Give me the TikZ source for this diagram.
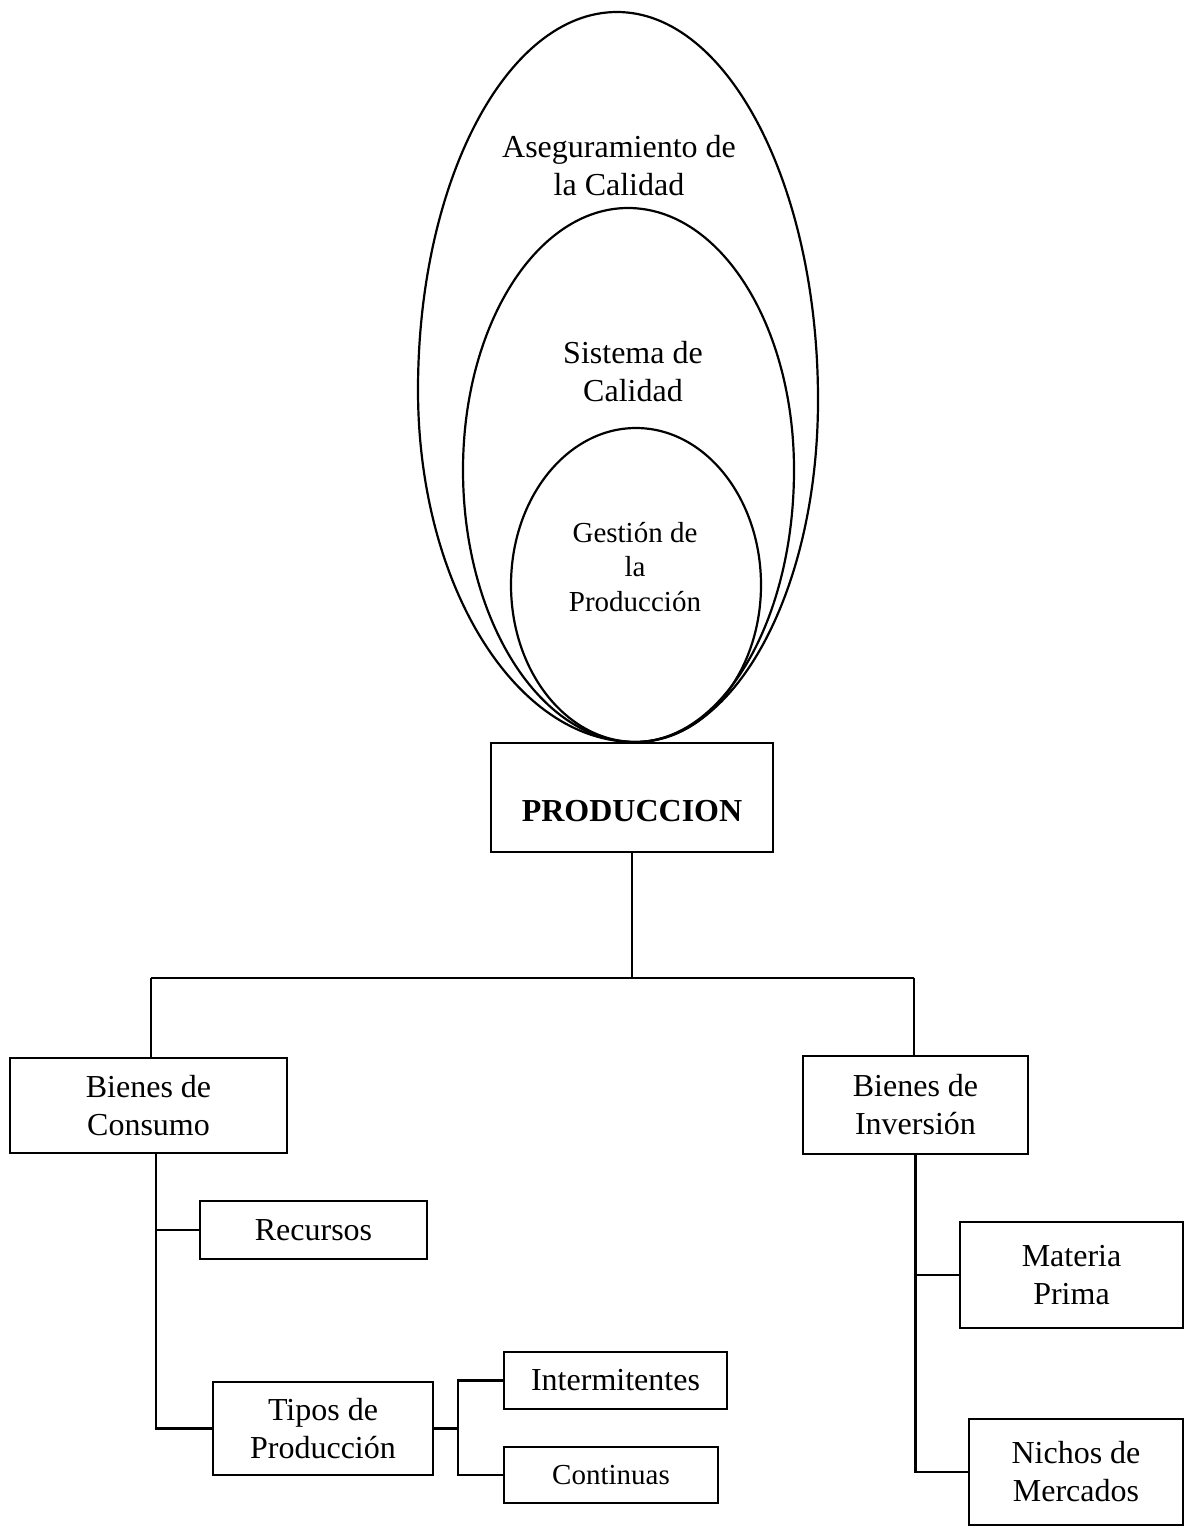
\documentclass[tikz,border=0pt]{standalone}
\usepackage{fontspec}
\setmainfont{Liberation Serif}
\begin{document}
\begin{tikzpicture}[x=0.5pt,y=-0.5pt,line width=1.1pt,
  box/.style={draw,line width=1.1pt,rectangle,inner sep=0pt,align=center,font=\fontsize{16}{19}\selectfont},
  sbox/.style={box,font=\fontsize{14.5}{17.25}\selectfont},
  lbl/.style={align=center,inner sep=0pt,font=\fontsize{16}{19}\selectfont},
  slbl/.style={lbl,font=\fontsize{14.5}{17.25}\selectfont},
  conn/.style={draw,line width=1.1pt},
  oval/.style={draw,line width=1.1pt}]
\useasboundingbox (0,0) rectangle (1184,1526);

% nested ovals
\path[oval] (617,12) .. controls (507,12) and (418,181) .. (418,390)
  .. controls (418,584) and (515,742) .. (635,742)
  .. controls (736,742) and (818,589) .. (818,400)
  .. controls (818,186) and (728,12) .. (617,12) -- cycle;
\path[oval] (628,208) .. controls (537,208) and (463,325) .. (463,470)
  .. controls (463,620) and (540,742) .. (635,742)
  .. controls (723,742) and (794,620) .. (794,470)
  .. controls (794,325) and (720,208) .. (628,208) -- cycle;
\path[oval] (636,585) ellipse [x radius=125, y radius=157];

\node[lbl] (aseg) at (619,166) {Aseguramiento de\\la Calidad};
\node[lbl] (sist) at (633,372) {Sistema de\\Calidad};
\node[slbl] (gest) at (635,567) {Gestión de\\la\\Producción};

% boxes
\node[box,minimum width=141pt,minimum height=54.5pt] (prod) at (632,797.5) {};
\node[lbl,font=\fontsize{16}{19}\selectfont\bfseries] (prodt) at (632,811) {PRODUCCION};
\node[box,minimum width=138.5pt,minimum height=47.5pt] (bc) at (148.5,1105.5) {Bienes de\\Consumo};
\node[box,minimum width=112.5pt,minimum height=49pt] (bi) at (915.5,1105) {Bienes de\\Inversión};
\node[box,minimum width=113.5pt,minimum height=29pt] (rec) at (313.5,1230) {Recursos};
\node[box,minimum width=110pt,minimum height=46.5pt] (tp) at (323,1428.5) {Tipos de\\Producción};
\node[box,minimum width=111.5pt,minimum height=28.5pt] (int) at (615.5,1380.5) {Intermitentes};
\node[sbox,minimum width=107pt,minimum height=28pt] (con) at (611,1475) {Continuas};
\node[box,minimum width=111.5pt,minimum height=53pt] (mp) at (1071.5,1275) {Materia\\Prima};
\node[box,minimum width=107pt,minimum height=53pt] (nm) at (1076,1472) {Nichos de\\Mercados};

% connectors
\coordinate (hM) at (632,978);
\coordinate (hL) at (151,978);
\coordinate (hR) at (914,978);
\coordinate (ls) at (156,1153);
\coordinate (br) at (458,1428.5);
\path[conn] (prod.south) -- (hM);
\path[conn] (hL) -- (hR);
\path[conn] (hL) -- (hL |- bc.north);
\path[conn] (hR) -- (hR |- bi.north);
\path[conn] (ls) |- (tp.west);
\path[conn] (ls |- rec.west) -- (rec.west);
\path[conn] (tp.east) -- (br);
\path[conn] (int.west) -| (br) |- (con.west);
\path[conn] (bi.south) |- (nm.west);
\path[conn] (bi.south |- mp.west) -- (mp.west);
\end{tikzpicture}
\end{document}
